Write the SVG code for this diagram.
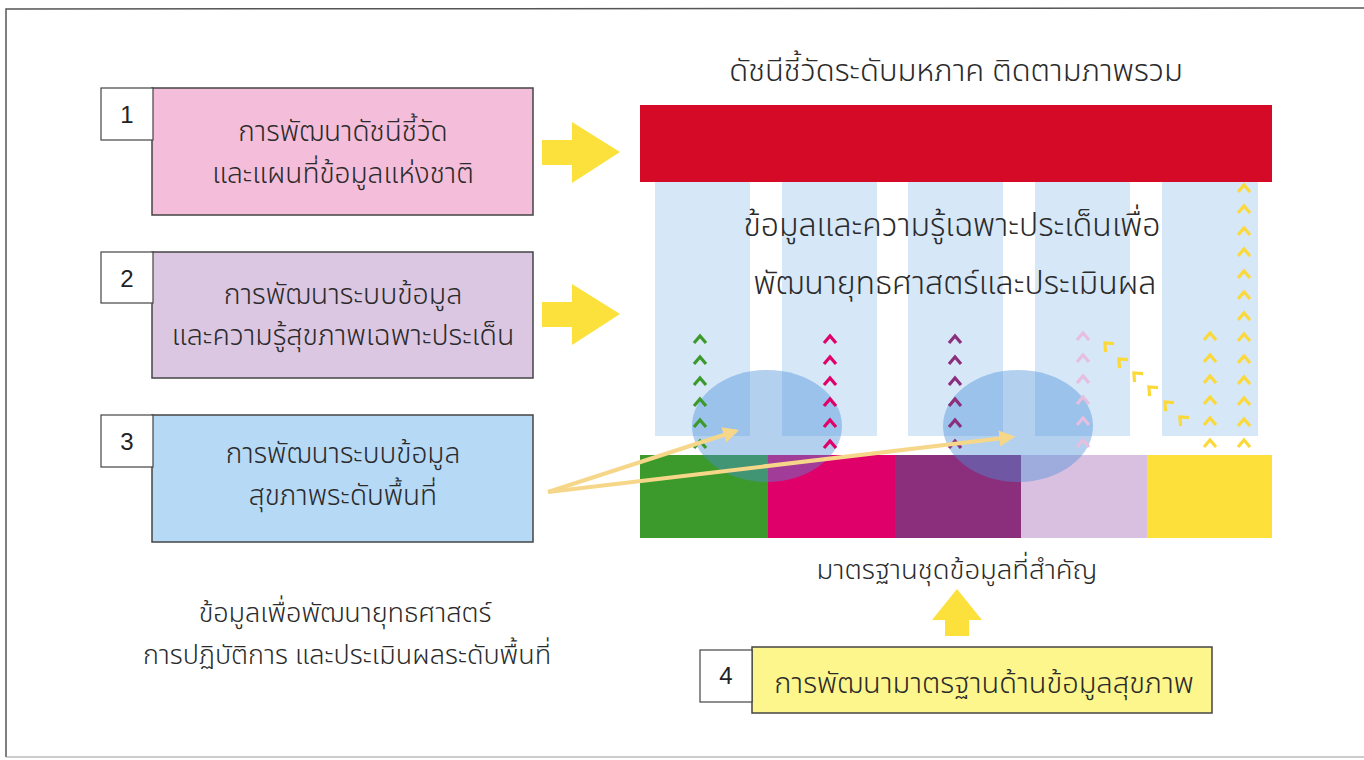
<svg xmlns="http://www.w3.org/2000/svg" width="1364" height="760" viewBox="0 0 1364 760">
<defs>
<style>
.t{font-family:"Noto Sans Thai","Noto Sans","DejaVu Sans",sans-serif;fill:#2b2b2b;text-anchor:middle;font-weight:300}
.num{font-family:"Liberation Sans",Arial,sans-serif;font-size:24px;fill:#222;text-anchor:middle}
.nb{fill:#fff;stroke:#444;stroke-width:1.2}
.box{stroke:#444;stroke-width:1.5}
.col{fill:#d6e7f8}
.ell{fill:#4a90da;opacity:0.42}
.blk{fill:#fce03c}
.ln{stroke:#f6d78a;stroke-width:4;fill:none}
</style>
<path id="ch" d="M-6,4 L0,-3 L6,4" fill="none" stroke-width="3.2"/>
<marker id="ah" viewBox="0 0 10 10" refX="8" refY="5" markerWidth="4" markerHeight="4" orient="auto">
<path d="M0,0 L10,5 L0,10 z" fill="#f6d78a"/>
</marker>
</defs>
<rect width="1364" height="760" fill="#fff"/>
<path d="M6,757 L6,9 L1364,8" fill="none" stroke="#555" stroke-width="1.5"/>
<path d="M6,757 L1364,757" fill="none" stroke="#999" stroke-width="1"/>

<g id="title"><text class="t" x="956" y="81" font-size="31">ดัชนีชี้วัดระดับมหภาค ติดตามภาพรวม</text></g>

<g id="columns">
<rect class="col" x="655" y="182" width="95" height="254"/>
<rect class="col" x="782" y="182" width="95" height="254"/>
<rect class="col" x="908" y="182" width="95" height="254"/>
<rect class="col" x="1035" y="182" width="95" height="254"/>
<rect class="col" x="1162" y="182" width="96" height="254"/>
</g>
<g id="macro"><rect x="640" y="105" width="632" height="77" fill="#d40a27"/></g>

<g id="databar">
<rect x="640" y="455" width="128" height="83" fill="#3c9a2c"/>
<rect x="768" y="455" width="127" height="83" fill="#e0006a"/>
<rect x="895" y="455" width="126" height="83" fill="#8b2f7c"/>
<rect x="1021" y="455" width="126" height="83" fill="#d9bfe0"/>
<rect x="1147" y="455" width="125" height="83" fill="#fee03a"/>
</g>
<g id="ellipses">
<ellipse class="ell" cx="767" cy="426" rx="75" ry="56"/>
<ellipse class="ell" cx="1018" cy="426" rx="75" ry="56"/>
</g>

<g id="chevrons">
<g stroke="#3c9a2c"><use href="#ch" x="700" y="339"/><use href="#ch" x="700" y="360"/><use href="#ch" x="700" y="381"/><use href="#ch" x="700" y="402"/><use href="#ch" x="700" y="423"/><use href="#ch" x="700" y="444"/></g>
<g stroke="#e0006a"><use href="#ch" x="830" y="339"/><use href="#ch" x="830" y="360"/><use href="#ch" x="830" y="381"/><use href="#ch" x="830" y="402"/><use href="#ch" x="830" y="423"/><use href="#ch" x="830" y="444"/></g>
<g stroke="#8b2f7c"><use href="#ch" x="955" y="339"/><use href="#ch" x="955" y="360"/><use href="#ch" x="955" y="381"/><use href="#ch" x="955" y="402"/><use href="#ch" x="955" y="423"/><use href="#ch" x="955" y="444"/></g>
<g stroke="#e6bfe0"><use href="#ch" x="1083" y="336"/><use href="#ch" x="1083" y="358"/><use href="#ch" x="1083" y="379"/><use href="#ch" x="1083" y="400"/><use href="#ch" x="1083" y="421"/><use href="#ch" x="1083" y="443"/></g>
<g stroke="#fbd93a">
<use href="#ch" transform="translate(1107,345) rotate(-45)"/>
<use href="#ch" transform="translate(1121,361) rotate(-45)"/>
<use href="#ch" transform="translate(1136,375) rotate(-45)"/>
<use href="#ch" transform="translate(1151,389) rotate(-45)"/>
<use href="#ch" transform="translate(1167,404) rotate(-45)"/>
<use href="#ch" transform="translate(1182,419) rotate(-45)"/>
<use href="#ch" x="1210" y="336"/><use href="#ch" x="1210" y="358"/><use href="#ch" x="1210" y="379"/><use href="#ch" x="1210" y="400"/><use href="#ch" x="1210" y="421"/><use href="#ch" x="1210" y="443"/>
<use href="#ch" x="1244" y="188"/><use href="#ch" x="1244" y="209"/><use href="#ch" x="1244" y="231"/><use href="#ch" x="1244" y="252"/><use href="#ch" x="1244" y="274"/><use href="#ch" x="1244" y="295"/><use href="#ch" x="1244" y="316"/><use href="#ch" x="1244" y="337"/><use href="#ch" x="1244" y="359"/><use href="#ch" x="1244" y="380"/><use href="#ch" x="1244" y="401"/><use href="#ch" x="1244" y="422"/><use href="#ch" x="1244" y="443"/>
</g>
</g>

<g id="issue-text">
<text class="t" x="952" y="236" font-size="32">ข้อมูลและความรู้เฉพาะประเด็นเพื่อ</text>
<text class="t" x="955" y="294" font-size="32">พัฒนายุทธศาสตร์และประเมินผล</text>
</g>

<g id="node1">
<rect class="box" x="152" y="88" width="381" height="127" fill="#f4bdd9"/>
<rect class="nb" x="101" y="88" width="52" height="52"/>
<text class="num" x="127" y="123">1</text>
<text class="t" x="343" y="141" font-size="28">การพัฒนาดัชนีชี้วัด</text>
<text class="t" x="343" y="183" font-size="28">และแผนที่ข้อมูลแห่งชาติ</text>
</g>
<g id="node2">
<rect class="box" x="152" y="252" width="381" height="126" fill="#dcc7e3"/>
<rect class="nb" x="101" y="252" width="52" height="51"/>
<text class="num" x="127" y="287">2</text>
<text class="t" x="343" y="304" font-size="28.5">การพัฒนาระบบข้อมูล</text>
<text class="t" x="343" y="345" font-size="28.5">และความรู้สุขภาพเฉพาะประเด็น</text>
</g>
<g id="node3">
<rect class="box" x="152" y="415" width="381" height="127" fill="#b6d9f6"/>
<rect class="nb" x="101" y="415" width="52" height="52"/>
<text class="num" x="127" y="450">3</text>
<text class="t" x="343" y="463" font-size="28">การพัฒนาระบบข้อมูล</text>
<text class="t" x="343" y="505" font-size="28">สุขภาพระดับพื้นที่</text>
</g>
<g id="node4">
<rect class="box" x="752" y="647" width="460" height="66" fill="#fdf68c"/>
<rect class="nb" x="700" y="650" width="52" height="52"/>
<text class="num" x="726" y="684">4</text>
<text class="t" x="984" y="693" font-size="29">การพัฒนามาตรฐานด้านข้อมูลสุขภาพ</text>
</g>

<g id="labels">
<text class="t" x="957" y="579" font-size="27.5">มาตรฐานชุดข้อมูลที่สำคัญ</text>
<text class="t" x="345" y="622" font-size="27">ข้อมูลเพื่อพัฒนายุทธศาสตร์</text>
<text class="t" x="347" y="664" font-size="27">การปฏิบัติการ และประเมินผลระดับพื้นที่</text>
</g>

<g id="connectors">
<path class="blk" d="M542,140 H572 V122 L620,152 L572,183 V165 H542 Z"/>
<path class="blk" d="M542,302 H572 V284 L620,314 L572,345 V327 H542 Z"/>
<path class="blk" d="M945,636 V620 H932 L957,589 L982,620 H969 V636 Z"/>
<path class="ln" d="M548,492 L736,431" marker-end="url(#ah)"/>
<path class="ln" d="M548,492 L1012,437" marker-end="url(#ah)"/>
</g>
</svg>
